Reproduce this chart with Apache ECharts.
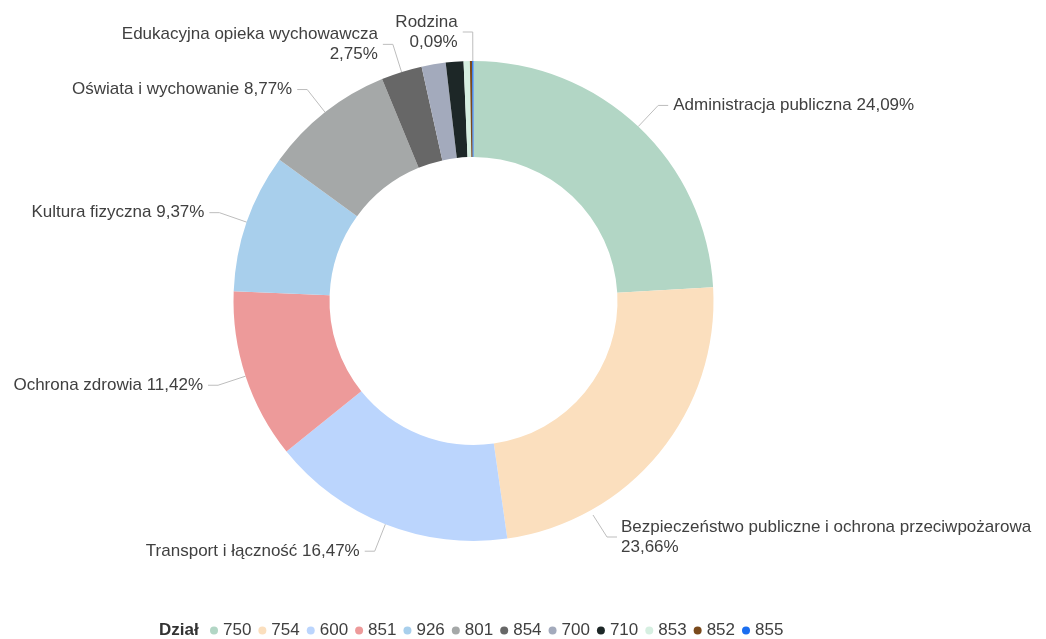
<!DOCTYPE html>
<html>
<head>
<meta charset="utf-8">
<script src="https://cdn.jsdelivr.net/npm/echarts@6/dist/echarts.min.js"></script>
<style>
html,body{margin:0;padding:0;background:#fff;}
#chart{width:1046px;height:639px;}
</style>
</head>
<body>
<div id="chart"></div>
<script>
var codes = ['750','754','600','851','926','801','854','700','710','853','852','855'];
var names = ['Administracja publiczna','Bezpieczeństwo publiczne i ochrona przeciwpożarowa','Transport i łączność','Ochrona zdrowia','Kultura fizyczna','Oświata i wychowanie','Edukacyjna opieka wychowawcza','Gospodarka mieszkaniowa','Działalność usługowa','Pozostałe zadania w zakresie polityki społecznej','Pomoc społeczna','Rodzina'];
var values = [24.09, 23.66, 16.47, 11.42, 9.37, 8.77, 2.75, 1.62, 1.19, 0.42, 0.15, 0.09];
var colors = ['#b2d6c5','#fbdfbe','#bbd5fd','#ed9a9a','#a8cfec','#a5a8a8','#676767','#a3aabc','#1d2727','#d6efe1','#7a4a1c','#1b6ef0'];
var showLabel = [true,true,true,true,true,true,true,false,false,false,false,true];
var wrapLabel = [false,true,false,false,false,false,true,false,false,false,false,true];

var data = codes.map(function(c,i){
  return {
    name: c,
    value: values[i],
    itemStyle: {color: colors[i]},
    label: {show: showLabel[i]},
    labelLine: {show: showLabel[i]}
  };
});

var FONT = 'Liberation Sans, Arial, sans-serif';
var chart = echarts.init(document.getElementById('chart'));
chart.setOption({
  animation: false,
  color: colors,
  title: {
    text: 'Dział',
    left: 159,
    top: 622,
    padding: 0,
    textStyle: {fontFamily: FONT, fontSize: 17, fontWeight: 'bold', color: '#333'}
  },
  legend: {
    data: codes,
    left: 210,
    top: 622,
    padding: 0,
    icon: 'circle',
    itemWidth: 8,
    itemHeight: 8,
    itemGap: 7,
    textStyle: {fontFamily: FONT, fontSize: 17, color: '#404040'}
  },
  series: [{
    type: 'pie',
    center: [473.5, 301],
    radius: [144, 240],
    startAngle: 90,
    clockwise: true,
    avoidLabelOverlap: false,
    data: data,
    label: {
      fontFamily: FONT,
      fontSize: 17,
      color: '#404040',
      lineHeight: 20,
      overflow: 'none',
      formatter: function(p){
        var i = p.dataIndex;
        var v = values[i].toFixed(2).replace('.', ',') + '%';
        return names[i] + (wrapLabel[i] ? '\n' : ' ') + v;
      }
    },
    labelLine: {
      length: 29,
      length2: 10,
      lineStyle: {color: '#bdbdbd', width: 1}
    },
    labelLayout: function(p){
      if (p.dataIndex === 1) {
        return {
          x: 621, y: 537, align: 'left', verticalAlign: 'middle',
          labelLinePoints: [[593, 515], [607, 537], [617, 537]]
        };
      }
    }
  }]
});
</script>
</body>
</html>
